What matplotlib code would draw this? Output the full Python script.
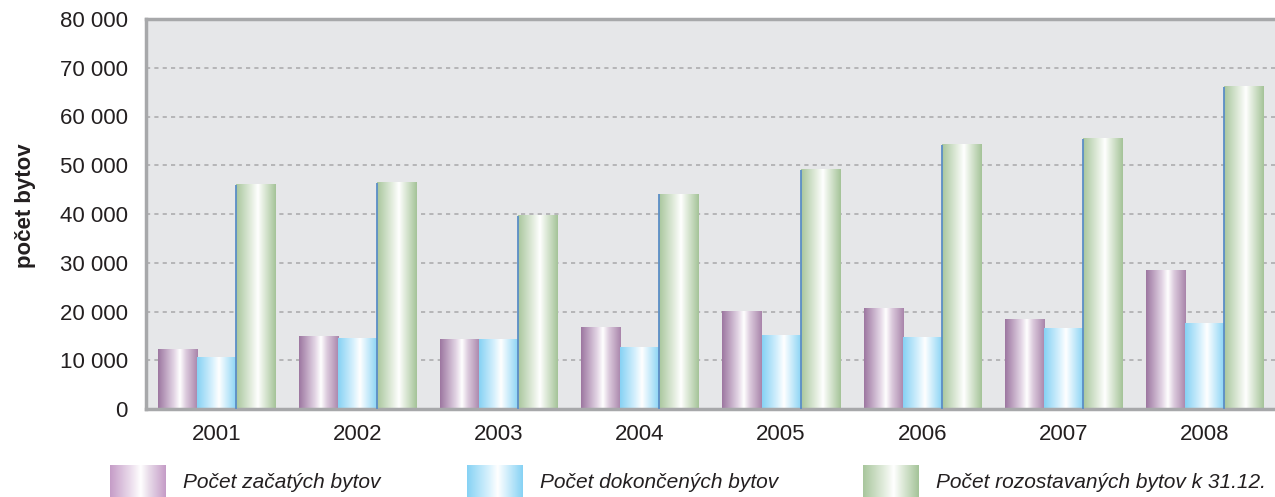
import numpy as np
import matplotlib
matplotlib.use("Agg")
import matplotlib.pyplot as plt
from matplotlib.colors import LinearSegmentedColormap
from matplotlib import font_manager

years = ["2001", "2002", "2003", "2004", "2005", "2006", "2007", "2008"]
zacate = [12300, 14800, 14200, 16800, 19900, 20700, 18300, 28500]
dokoncene = [10500, 14400, 14200, 12700, 15000, 14600, 16600, 17500]
rozostavane = [46000, 46400, 39600, 44100, 49100, 54200, 55400, 66100]
series_labels = ["Počet začatých bytov", "Počet dokončených bytov",
                 "Počet rozostavaných bytov k 31.12."]
yticks = [0, 10000, 20000, 30000, 40000, 50000, 60000, 70000, 80000]
ytick_labels = ["0", "10 000", "20 000", "30 000", "40 000", "50 000",
                "60 000", "70 000", "80 000"]

names = {f.name for f in font_manager.fontManager.ttflist}
fam = "Liberation Sans Narrow" if "Liberation Sans Narrow" in names else "Liberation Sans"
plt.rcParams["font.family"] = [fam, "DejaVu Sans"]

purple_cmap = LinearSegmentedColormap.from_list(
    "p", [(0.0, "#9c76a0"), (0.4, "#e2d4e4"), (0.55, "#ffffff"), (0.7, "#dccbdd"), (1.0, "#a884aa")])
blue_cmap = LinearSegmentedColormap.from_list(
    "b", [(0.0, "#86d2f4"), (0.4, "#daf2fd"), (0.55, "#ffffff"), (0.7, "#d6f0fc"), (1.0, "#86d2f4")])
green_cmap = LinearSegmentedColormap.from_list(
    "gr", [(0.0, "#a8c69c"), (0.4, "#e6efe2"), (0.55, "#ffffff"), (0.7, "#e0ebdb"), (1.0, "#a4c398")])
purple_leg = LinearSegmentedColormap.from_list(
    "pl", [(0.0, "#c59cc7"), (0.4, "#eee2ef"), (0.55, "#ffffff"), (0.7, "#e8dbe9"), (1.0, "#c59cc7")])
cmaps = [purple_cmap, blue_cmap, green_cmap]
leg_cmaps = [purple_leg, blue_cmap, green_cmap]

W, H = 1275, 497
fig = plt.figure(figsize=(W / 100, H / 100), dpi=100)
fig.patch.set_facecolor("white")
ax = fig.add_axes([146 / W, 1 - 409 / H, (W - 146) / W, (409 - 19) / H])
ax.set_facecolor("#e6e7e9")

x = np.arange(len(years))
bw = 0.277
grad = np.linspace(0, 1, 256).reshape(1, -1)
data = [zacate, dokoncene, rozostavane]
ymax = 80000
for si, (vals, cm) in enumerate(zip(data, cmaps)):
    for xi, v in zip(x, vals):
        x0 = xi + (si - 1.5) * bw
        ax.imshow(grad, cmap=cm, extent=[x0, x0 + bw, 0, v], aspect="auto",
                  interpolation="bilinear", zorder=2)
# thin blue edge on the left side of the green bars
ax.vlines(x + 0.5 * bw, 0, rozostavane, color="#5b8ec6", lw=1.3, zorder=3)

ax.set_xlim(-0.5, len(years) - 0.5)
ax.set_ylim(0, ymax)
ax.set_yticks(yticks)
ax.set_yticklabels(ytick_labels)
ax.set_xticks(x)
ax.set_xticklabels(years)
ax.tick_params(axis="both", length=0, labelsize=16, colors="#231f20")
ax.tick_params(axis="y", pad=13)
ax.tick_params(axis="x", pad=11)
for t in yticks[1:-1]:
    ax.axhline(t, color="#adadaf", lw=1.2, ls=(0, (2.5, 2.5)), zorder=1)
ax.spines["right"].set_visible(False)
for s in ["left", "bottom", "top"]:
    ax.spines[s].set_color("#a7a8aa")
    ax.spines[s].set_linewidth(2.5)

fig.text(25 / W, 1 - 206 / H, "počet bytov", rotation=90, ha="center", va="center",
         fontsize=16, fontweight="bold", color="#231f20")

# legend
lax = fig.add_axes([0, 0, 1, 1], zorder=-1)
lax.set_xlim(0, W)
lax.set_ylim(H, 0)
lax.axis("off")
leg_x = [110, 467, 863]
for lx, cm, lab in zip(leg_x, leg_cmaps, series_labels):
    lax.imshow(grad, cmap=cm, extent=[lx, lx + 56, H, 465], aspect="auto",
               interpolation="bilinear")
    lax.text(lx + 56 + 17, 482, lab, fontsize=15, fontstyle="italic",
             color="#231f20", va="center", ha="left")
lax.set_xlim(0, W)
lax.set_ylim(H, 0)

fig.savefig("out.png", dpi=100)
